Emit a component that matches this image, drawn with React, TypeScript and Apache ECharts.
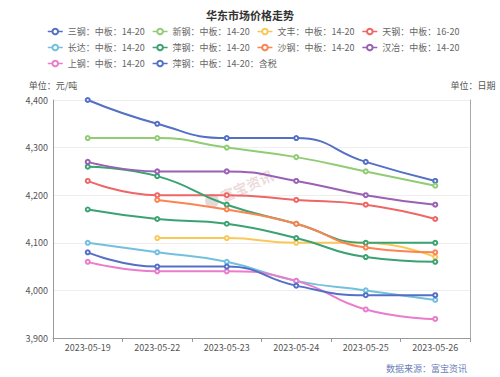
import React, { useEffect, useRef } from "react";
import * as echarts from "echarts";

const categories = ["2023-05-19", "2023-05-22", "2023-05-23", "2023-05-24", "2023-05-25", "2023-05-26"];

const seriesNames = [
  "三钢：中板：14-20",
  "新钢：中板：14-20",
  "文丰：中板：14-20",
  "天钢：中板：16-20",
  "长达：中板：14-20",
  "萍钢：中板：14-20",
  "沙钢：中板：14-20",
  "汉冶：中板：14-20",
  "上钢：中板：14-20",
  "萍钢：中板：14-20：含税",
];

const sangang = [4400, 4350, 4320, 4320, 4270, 4230];
const xingang = [4320, 4320, 4300, 4280, 4250, 4220];
const wenfeng = [null, 4110, 4110, 4100, 4100, 4070];
const tiangang = [4230, 4200, 4200, 4190, 4180, 4150];
const changda = [4100, 4080, 4060, 4020, 4000, 3980];
const pinggangA = [4260, 4240, 4180, 4140, 4100, 4100];
const pinggangB = [4170, 4150, 4140, 4110, 4070, 4060];
const shagang = [null, 4190, 4170, 4140, 4090, 4080];
const hanye = [4270, 4250, 4250, 4230, 4200, 4180];
const shanggang = [4060, 4040, 4040, 4020, 3960, 3940];
const pinggangTax = [4080, 4050, 4050, 4010, 3990, 3990];

const palette = ["#5470c6", "#91cc75", "#fac858", "#ee6666", "#73c0de", "#3ba272", "#fc8452", "#9a60b4", "#ea7ccc"];

const FONT = "'Noto Sans CJK SC', 'Microsoft YaHei', sans-serif";

export default function App() {
  const ref = useRef<HTMLDivElement>(null);
  useEffect(() => {
    document.body.style.margin = "0";
    if (!ref.current) return;
    const chart = echarts.init(ref.current, undefined, { renderer: "svg" });
    const mk = (name: string, data: (number | null)[], color: string) => ({
      name,
      type: "line",
      data,
      smooth: true,
      symbol: "emptyCircle",
      symbolSize: 4,
      color,
      lineStyle: { width: 2, color },
      itemStyle: { color, borderWidth: 1 },
      connectNulls: false,
    });
    const series = [
      mk(seriesNames[0], sangang, palette[0]),
      mk(seriesNames[1], xingang, palette[1]),
      mk(seriesNames[2], wenfeng, palette[2]),
      mk(seriesNames[3], tiangang, palette[3]),
      mk(seriesNames[4], changda, palette[4]),
      mk(seriesNames[5], pinggangA, palette[5]),
      mk(seriesNames[5], pinggangB, palette[5]),
      mk(seriesNames[6], shagang, palette[6]),
      mk(seriesNames[7], hanye, palette[7]),
      mk(seriesNames[8], shanggang, palette[8]),
      mk(seriesNames[9], pinggangTax, palette[0]),
    ];
    chart.setOption({
      animation: false,
      textStyle: { fontFamily: FONT },
      title: {
        text: "华东市场价格走势",
        left: "center",
        top: 9,
        padding: 0,
        textStyle: { fontSize: 11, fontWeight: "bold", color: "#333", fontFamily: FONT },
      },
      legend: {
        data: seriesNames,
        left: 47,
        top: 27,
        width: 415,
        padding: 0,
        itemWidth: 15,
        itemHeight: 7,
        itemGap: 7,
        itemStyle: { borderWidth: 1 },
        lineStyle: { width: 1.5 },
        textStyle: { fontSize: 9, color: "#666", lineHeight: 8, fontFamily: FONT },
      },
      grid: { left: 53, right: 30, top: 100, bottom: 39, containLabel: false },
      xAxis: {
        type: "category",
        data: categories,
        boundaryGap: true,
        axisLine: { lineStyle: { color: "#999" } },
        axisTick: { show: true, alignWithLabel: false, length: 4, lineStyle: { color: "#999" } },
        axisLabel: { fontSize: 9, color: "#555", margin: 5, fontFamily: FONT },
      },
      yAxis: [
        {
          type: "value",
          min: 3900,
          max: 4400,
          interval: 100,
          name: "单位：元/吨",
          nameGap: 10,
          nameTextStyle: { fontSize: 9, color: "#555", fontFamily: FONT },
          axisLine: { show: true, lineStyle: { color: "#999" } },
          axisTick: { show: false },
          axisLabel: {
            fontSize: 9,
            color: "#555",
            margin: 5,
            fontFamily: FONT,
            formatter: (v: number) => v.toLocaleString("en-US"),
          },
          splitLine: { lineStyle: { color: "#eee" } },
        },
        {
          type: "value",
          position: "right",
          min: 3900,
          max: 4400,
          interval: 100,
          name: "单位：日期",
          nameGap: 10,
          nameTextStyle: { fontSize: 9, color: "#555", fontFamily: FONT, padding: [0, 0, 0, 6] },
          axisLine: { show: true, lineStyle: { color: "#aaa" } },
          axisTick: { show: false },
          axisLabel: { show: false },
          splitLine: { show: false },
        },
      ],
      graphic: [
        {
          type: "group",
          x: 212,
          y: 201,
          rotation: 0.42,
          silent: true,
          z: 100,
          children: [
            { type: "circle", shape: { cx: 0, cy: 0, r: 7 }, style: { fill: "rgba(180,150,150,0.35)" } },
            {
              type: "text",
              x: 10,
              y: 0,
              style: {
                text: "富宝资讯",
                font: "bold 14px 'Noto Sans CJK SC'",
                fill: "rgba(200,150,150,0.35)",
                verticalAlign: "middle",
              },
            },
          ],
        },
        {
          type: "text",
          right: 33,
          top: 364,
          style: { text: "数据来源：富宝资讯", font: "9px 'Noto Sans CJK SC'", fill: "#6a80b8" },
        },
      ],
      series,
    });
    return () => chart.dispose();
  }, []);
  return <div ref={ref} style={{ width: 500, height: 377 }} />;
}
